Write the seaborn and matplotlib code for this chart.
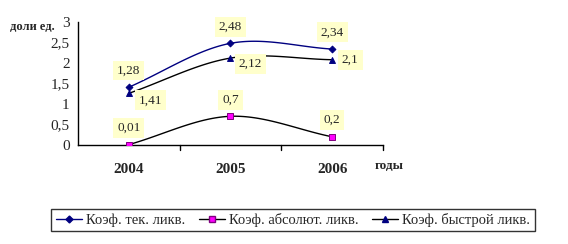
import numpy as np
import pandas as pd
import matplotlib
matplotlib.use("Agg")
import matplotlib.pyplot as plt
import seaborn as sns
from matplotlib.lines import Line2D

years = ["2004", "2005", "2006"]
tek = [1.41, 2.48, 2.34]
absl = [0.01, 0.70, 0.20]
quick = [1.26, 2.12, 2.08]
tek_labels = ["1,28", "2,48", "2,34"]
abs_labels = ["0,01", "0,7", "0,2"]
quick_labels = ["1,41", "2,12", "2,1"]
series_names = ["Коэф. тек. ликв.", "Коэф. абсолют. ликв.", "Коэф. быстрой ликв."]
yticks = [0, 0.5, 1, 1.5, 2, 2.5, 3]
ytick_labels = ["0", "0,5", "1", "1,5", "2", "2,5", "3"]

sns.set_style("white")
plt.rcParams["font.family"] = ["Liberation Serif", "DejaVu Serif"]


def smooth(xs, ys, n=40):
    xs = np.asarray(xs, float); ys = np.asarray(ys, float)
    px = np.concatenate([[2*xs[0]-xs[1]], xs, [2*xs[-1]-xs[-2]]])
    py = np.concatenate([[2*ys[0]-ys[1]], ys, [2*ys[-1]-ys[-2]]])
    ox, oy = [], []
    for i in range(1, len(px)-2):
        t = np.linspace(0, 1, n)
        p0, p1, p2, p3 = [np.array([px[j], py[j]]) for j in range(i-1, i+3)]
        m1 = (p2 - p0) * 0.5
        m2 = (p3 - p1) * 0.5
        h00 = 2*t**3 - 3*t**2 + 1; h10 = t**3 - 2*t**2 + t
        h01 = -2*t**3 + 3*t**2; h11 = t**3 - t**2
        pts = np.outer(h00, p1) + np.outer(h10, m1) + np.outer(h01, p2) + np.outer(h11, m2)
        ox.extend(pts[:, 0]); oy.extend(pts[:, 1])
    return np.array(ox), np.array(oy)


fig = plt.figure(figsize=(5.68, 2.44), dpi=100)
ax = fig.add_axes([78/568, 1-145/244, 305/568, 123/244])

xpos = np.arange(len(years))
styles = [
    (tek, "#000080", "D", "#000080", "#000080", 4, 12),
    (absl, "black", "s", "#FF00FF", "#800080", 4.5, 14),
    (quick, "black", "^", "#000080", "#000080", 5, 18),
]
for (vals, lc, mk, mfc, mec, ms, s), name in zip(styles, series_names):
    sx, sy = smooth(xpos, vals)
    sns.lineplot(x=sx, y=sy, ax=ax, color=lc, lw=1, sort=False, estimator=None)
    sns.scatterplot(x=xpos, y=vals, ax=ax, marker=mk, color=mfc, edgecolor=mec,
                    s=s, linewidth=0.7, zorder=5)

bbox = dict(boxstyle="square,pad=0.3", fc="#FFFFCC", ec="none")
fs = 9.5
for vals, labs in [(tek, tek_labels), (absl, abs_labels)]:
    for i, (v, l) in enumerate(zip(vals, labs)):
        ax.annotate(l, (xpos[i], v), xytext=(0, 12), textcoords="offset points",
                    ha="center", va="center", fontsize=fs, bbox=bbox, zorder=6)
offs = [(7, -5), (6, -4), (7, 0)]
for i, (v, l) in enumerate(zip(quick, quick_labels)):
    ax.annotate(l, (xpos[i], v), xytext=offs[i], textcoords="offset points",
                ha="left", va="center", fontsize=fs, bbox=bbox, zorder=6)

ax.set_xlim(-0.5, 2.5)
ax.set_ylim(0, 3)
ax.set_yticks(yticks)
ax.set_yticklabels(ytick_labels, fontsize=11)
ax.set_xticks(xpos)
ax.set_xticklabels(years, fontsize=11, fontweight="bold")
ax.tick_params(axis="x", length=0, pad=13)
ax.tick_params(axis="y", direction="out", length=4, width=1, color="black", pad=2)
for x in [0.5, 1.5, 2.5]:
    ax.plot([x, x], [0, -0.12], color="black", lw=1, clip_on=False)
for s in ["top", "right"]:
    ax.spines[s].set_visible(False)
for s in ["left", "bottom"]:
    ax.spines[s].set_color("black")
    ax.spines[s].set_linewidth(1)

fig.text(10/568, 1-27/244, "доли ед.", fontsize=9, fontweight="bold", va="center", ha="left")
fig.text(375/568, 1-166/244, "годы", fontsize=9.5, fontweight="bold", va="center", ha="left")

handles = []
for (vals, lc, mk, mfc, mec, ms, s), name in zip(styles, series_names):
    handles.append(Line2D([0], [0], color=lc, lw=1, marker=mk, markerfacecolor=mfc,
                          markeredgecolor=mec, markersize=ms - 0.5, label=name))
leg = fig.legend(handles=handles, loc="center", bbox_to_anchor=(293/568, 1-220/244),
                 ncol=3, fontsize=10.5, frameon=True, fancybox=False, handlelength=1.8,
                 handletextpad=0.3, columnspacing=0.9, borderpad=0.3, edgecolor="black")
leg.get_frame().set_linewidth(1)

fig.savefig("out.png", dpi=100)
